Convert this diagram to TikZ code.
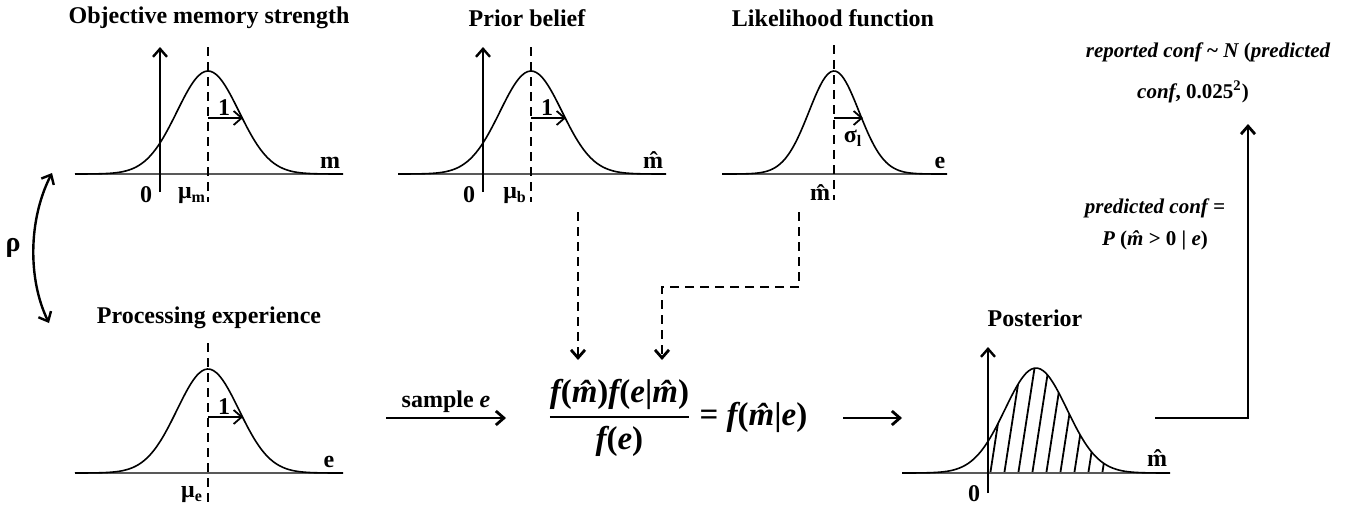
\documentclass[tikz,border=0pt]{standalone}
\usepackage{amsmath,amssymb}
\usepackage{fontspec}
\setmainfont{Liberation Serif}
\usetikzlibrary{arrows.meta}
\newcommand{\bp}[1]{{\upshape#1}}
\newcommand{\bayesrule}{$\displaystyle\genfrac{}{}{0.9pt}{}%
  {\text{\bfseries\itshape f\bp{(}\^{m}\bp{)}f\bp{(}e\bp{|}\^{m}\bp{)}}}%
  {\text{\bfseries\itshape f\bp{(}e\bp{)}}}%
  \text{\bfseries\itshape\ \bp{=} f\bp{(}\^{m}\bp{|}e\bp{)}}$}

\begin{document}
\begin{tikzpicture}[x=0.5pt,y=-0.5pt,>={Straight Barb[length=4pt,width=7pt]},
  font=\fontsize{12}{14}\selectfont\bfseries,
  axis/.style={draw=black!65,line width=0.8pt},
  yaxis/.style={->,line width=1.2pt},
  bell/.style={line width=0.8pt},
  meanline/.style={line width=1.4pt,dash pattern=on 4.5pt off 3pt},
  sdarrow/.style={->,line width=0.9pt},
  flow/.style={->,line width=1.4pt},
  feed/.style={->,line width=1.4pt,dash pattern=on 4.5pt off 3pt},
  lbl/.style={inner sep=0pt},
  rulebox/.style={inner sep=0pt,font=\fontsize{16.5}{19}\selectfont},
  side/.style={inner sep=0pt,font=\fontsize{10.5}{16}\selectfont\bfseries\itshape,align=center}]
  \useasboundingbox (0,0) rectangle (1359,504);

  % objective memory strength, top left
  \node[lbl] (objTitle) at (209,18) {Objective memory strength};
  \draw[axis] (75,174) -- (343,174);
  \draw[bell] plot[domain=75:343,samples=90,smooth]
    (\x,{174-103*exp(-0.5*((\x-208)/31)*((\x-208)/31))});
  \draw[yaxis] (160,192) -- (160,47);
  \draw[meanline] (208,47) -- (208,202);
  \draw[sdarrow] (208,118) -- (243,118);
  \node[lbl] (objUnit) at (224,108) {1};
  \node[lbl,anchor=north] (objZero) at (146,186) {0};
  \node[lbl,anchor=north] (objMu) at (192,187) {μ\textsubscript{m}};
  \node[lbl,anchor=base] (objVar) at (330,168) {m};

  % prior belief
  \node[lbl] (priorTitle) at (527,18) {Prior belief};
  \draw[axis] (398,174) -- (666,174);
  \draw[bell] plot[domain=398:666,samples=90,smooth]
    (\x,{174-103*exp(-0.5*((\x-531)/31)*((\x-531)/31))});
  \draw[yaxis] (483,192) -- (483,47);
  \draw[meanline] (531,47) -- (531,202);
  \draw[sdarrow] (531,118) -- (566,118);
  \node[lbl] (priorUnit) at (547,108) {1};
  \node[lbl,anchor=north] (priorZero) at (469,186) {0};
  \node[lbl,anchor=north] (priorMu) at (515,187) {μ\textsubscript{b}};
  \node[lbl,anchor=base] (priorVar) at (653,168) {\^{m}};

  % likelihood function, narrower
  \node[lbl] (likeTitle) at (833,18) {Likelihood function};
  \draw[axis] (722,174) -- (947,174);
  \draw[bell] plot[domain=722:947,samples=90,smooth]
    (\x,{174-103*exp(-0.5*((\x-834)/25)*((\x-834)/25))});
  \draw[meanline] (834,45) -- (834,200);
  \draw[sdarrow] (834,118) -- (863,118);
  \node[lbl] (likeSd) at (853,138) {σ\textsubscript{l}};
  \node[lbl,anchor=north] (likeMean) at (820,184) {\^{m}};
  \node[lbl,anchor=base] (likeVar) at (940,168) {e};

  % correlation between the two left panels
  \coordinate (rhoTop) at (52,173);
  \coordinate (rhoBot) at (49,323);
  \draw[<->,line width=1.2pt] (rhoTop) .. controls (28,220) and (28,280) .. (rhoBot);
  \node[lbl,font=\fontsize{14}{16}\selectfont\bfseries] (rho) at (13,248) {ρ};

  % processing experience, bottom left
  \node[lbl] (procTitle) at (209,318) {Processing experience};
  \draw[axis] (75,473) -- (343,473);
  \draw[bell] plot[domain=75:343,samples=90,smooth]
    (\x,{473-104*exp(-0.5*((\x-208)/31)*((\x-208)/31))});
  \draw[meanline] (208,343) -- (208,502);
  \draw[sdarrow] (208,417) -- (243,417);
  \node[lbl] (procUnit) at (224,407) {1};
  \node[lbl,anchor=north] (procMu) at (192,486) {μ\textsubscript{e}};
  \node[lbl,anchor=base] (procVar) at (329,467) {e};

  % Bayes rule in the middle
  \node[rulebox,anchor=west] (bayes) at (547,418) {\bayesrule};
  \coordinate (sampleL) at (386,418);
  \coordinate (sampleR) at (506,418);
  \draw[flow] (sampleL) -- (sampleR) node[midway,above=2pt,inner sep=0pt] (smpl) {sample \textit{e}};
  \coordinate (priorOut) at (578,212);
  \coordinate (likeOut) at (799,212);
  \coordinate (bayesInA) at (578,360);
  \coordinate (bayesInB) at (662,360);
  \draw[feed] (priorOut) -- (bayesInA);
  \draw[feed] (likeOut) -- ++(0,75) -| (bayesInB);
  \coordinate (postL) at (843,418);
  \coordinate (postR) at (902,418);
  \draw[flow] (postL) -- (postR);

  % posterior, hatched where m-hat > 0
  \node[lbl] (postTitle) at (1035,318) {Posterior};
  \begin{scope}
    \clip (988,473) -- plot[domain=988:1170,samples=70,smooth]
      (\x,{473-105*exp(-0.5*((\x-1036)/31)*((\x-1036)/31))}) -- (1170,473) -- cycle;
    \foreach \i in {0,...,8}
      \draw[line width=0.9pt] (990+14*\i,475) -- ++(17,-110);
  \end{scope}
  \draw[axis] (902,473) -- (1170,473);
  \draw[bell] plot[domain=902:1170,samples=90,smooth]
    (\x,{473-105*exp(-0.5*((\x-1036)/31)*((\x-1036)/31))});
  \draw[yaxis] (988,493) -- (988,347);
  \node[lbl,anchor=north] (postZero) at (974,485) {0};
  \node[lbl,anchor=base] (postVar) at (1157,466) {\^{m}};

  % confidence read out
  \node[side] (predConf) at (1155,224)
    {predicted conf =\\ \textit{P} {\upshape(}\^{m} {\upshape > 0 |} e{\upshape)}};
  \node[side,font=\fontsize{10.5}{20.5}\selectfont\bfseries\itshape] (repConf) at (1208,73)
    {reported conf {\upshape\textasciitilde} N {\upshape(}predicted\\ conf{\upshape, 0.025\textsuperscript{2})}\hspace*{15pt}};
  \coordinate (postOut) at (1155,418);
  \coordinate (confIn) at (1248,124);
  \draw[flow] (postOut) -| (confIn);
\end{tikzpicture}
\end{document}
